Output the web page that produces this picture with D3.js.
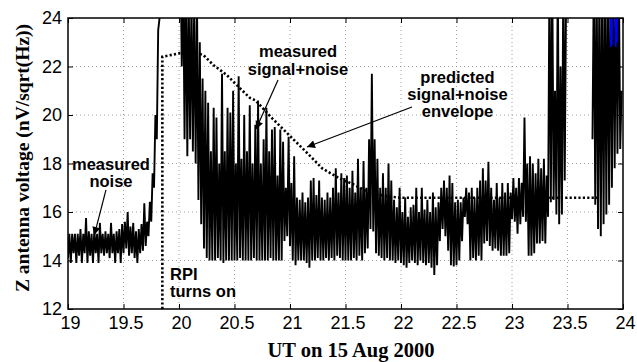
<!DOCTYPE html>
<html>
<head>
<meta charset="utf-8">
<script src="https://cdn.jsdelivr.net/npm/d3@7"></script>
<style>
  body { margin: 0; background: #fff; }
  svg { display: block; }
</style>
</head>
<body>
<div id="chart"></div>
<script>
// measured Z antenna voltage, read as min/max per 0.025 h bin starting at 19.00 UT
// (null = no data in that bin)
const binStart = 19, binWidth = 0.025;
const sigLo = [
  14.1, 13.9, 14.3, 13.9, 14.2, 13.9, 14.3, 13.9, 14.2, 13.9,
  14.3, 13.9, 14.3, 14.2, 14.3, 14.1, 14.3, 13.9, 14.3, 13.9,
  14.3, 14.5, 14.2, 14.3, 14.1, 13.9, 14.3, 14.4, 14.6, 15.0,
  15.6, 17.0, 19.0, 24, 25, 25, 25, 25, 25, 25,
  // 20 h
  25, 22, 19, 18.3, 19, 18.5, 18, 16.5, 15.5, 14.5,
  14.1, 14.0, 14.0, 14.0, 14.1, 14.0, 13.9, 14.0, 14.0, 14.0,
  14.0, 14.0, 14.1, 14.0, 14.0, 14.0, 14.0, 14.1, 14.0, 14.0,
  14.0, 14.0, 14.0, 14.1, 14.0, 14.0, 14.0, 14.0, 14.8, 15.0,
  // 21 h
  14.6, 14.0, 13.8, 14.0, 14.0, 14.0, 13.9, 13.7, 14.0, 14.0,
  14.1, 14.0, 14.0, 14.1, 14.0, 14.1, 14.0, 14.2, 14.1, 14.0,
  14.0, 14.0, 14.0, 14.1, 14.0, 14.2, 14.0, 14.3, 14.5, 15.3,
  15.2, 14.3, 14.2, 14.1, 14.0, 14.1, 14.0, 14.0, 13.9, 14.0,
  // 22 h
  13.9, 13.8, 13.7, 13.9, 14.0, 13.9, 13.8, 14.0, 13.9, 13.8,
  13.9, 13.7, 13.4, 13.8, 14.8, 15.3, 15.0, 14.4, 13.8, 13.75,
  13.8, 14.0, 14.8, 15.8, 15.5, 14.0, 14.1, 14.0, 14.2, 14.0,
  14.7, 14.8, 14.6, 14.4, 14.5, 14.4, 14.2, 14.2, 14.2, 14.3,
  // 23 h
  15.7, 15.6, 15.1, 15.5, 15.8, 15.6, 14.2, 14.2, 14.3, 14.7,
  14.7, 14.8, 14.7, 15.8, 16.4, 16.5, 15.9, 15.5, 15.9, 17.3,
  null, null, null, null, null, null, null, null, null, 19.0,
  16.3, 15.3, 15.0, 15.5, 15.9, 16.3, 17.0, 17.8, 18.4, 18.6
];
const sigHi = [
  15.1, 15.1, 15.1, 15.1, 15.3, 15.1, 15.75, 15.2, 15.1, 15.3,
  15.1, 15.55, 15.1, 15.2, 15.1, 15.55, 15.1, 15.2, 15.3, 15.5,
  15.6, 16.0, 15.4, 15.55, 15.2, 15.3, 15.5, 16.36, 15.6, 16.42,
  17.6, 20.0, 23.5, 27, 27, 27, 27, 27, 27, 27,
  // 20 h
  27, 26, 26, 25, 25, 25, 24.5, 23, 21.5, 21,
  20.5, 18.5, 20.3, 19.9, 18.0, 21.7, 18.5, 20.3, 20.1, 21.0,
  18.0, 21.6, 18.2, 20.0, 18.5, 20.4, 18.0, 19.6, 20.6, 18.0,
  19.0, 20.3, 18.5, 19.4, 19.5, 17.5, 19.4, 18.9, 17.0, 19.1,
  // 21 h
  17.2, 18.3, 16.6, 16.5, 16.8, 16.4, 16.6, 17.3, 17.4, 16.7,
  17.3, 16.6, 16.5, 16.8, 16.6, 17.0, 17.8, 16.8, 17.6, 17.4,
  17.5, 17.0, 17.7, 16.8, 18.2, 17.0, 18.1, 17.0, 19.0, 21.7,
  19.0, 18.2, 17.0, 17.6, 17.0, 18.0, 17.3, 16.5, 16.2, 17.0,
  // 22 h
  16.0, 16.6, 15.8, 16.2, 16.3, 17.0, 16.0, 17.0, 16.1, 16.5,
  16.0, 16.8, 16.2, 16.4, 17.0, 17.3, 17.0, 17.5, 17.2, 16.4,
  16.5, 16.4, 16.6, 17.0, 16.8, 17.0, 16.6, 17.0, 17.3, 17.8,
  17.3, 18.07, 17.0, 16.5, 17.2, 16.6, 17.2, 16.8, 17.2, 16.8,
  // 23 h
  17.4, 17.0, 17.4, 17.2, 19.9, 18.0, 18.3, 18.0, 17.6, 18.2,
  17.8, 18.2, 17.5, 26, 26, 21, 26, 22, 26, 25,
  null, null, null, null, null, null, null, null, null, 26,
  26, 26, 26, 26, 26, 26, 26, 26, 26, 21
];

// predicted signal+noise envelope
const envT = [19.85, 19.85, 20.01, 20.13, 20.22, 20.31, 20.43, 20.55, 20.64, 20.69,
              20.84, 20.99, 21.14, 21.29, 21.44, 21.59, 21.72, 21.9, 22.0, 23.77];
const envV = [12, 22.4, 22.55, 22.6, 22.47, 22.06, 21.65, 21.1, 20.7, 20.6,
              19.86, 19.18, 18.5, 17.8, 17.4, 17.1, 16.77, 16.63, 16.59, 16.59];

// short blue trace near the end
const blueT = [23.885, 23.89, 23.895, 23.9, 23.905, 23.92, 23.93, 23.935, 23.94, 23.945, 23.95];
const blueV = [25, 22.8, 25, 22.9, 25, null, 25, 22.8, 25, 23.0, 25];

const xTicks = [19, 19.5, 20, 20.5, 21, 21.5, 22, 22.5, 23, 23.5, 24];
const yTicks = [12, 14, 16, 18, 20, 22, 24];

const margin = {top: 18, right: 14, bottom: 53, left: 68},
      width = 637 - margin.left - margin.right,
      height = 362 - margin.top - margin.bottom;

const svg = d3.select("#chart")
    .append("svg")
    .attr("width", 637)
    .attr("height", 362);

const g = svg.append("g")
    .attr("transform", `translate(${margin.left},${margin.top})`);

const x = d3.scaleLinear().domain([19, 24]).range([0, width]);
const y = d3.scaleLinear().domain([12, 24]).range([height, 0]);

svg.append("defs").append("clipPath").attr("id", "plotclip")
  .append("rect").attr("width", width).attr("height", height);

// dotted grid
g.append("g").selectAll("line").data(xTicks.slice(1, -1)).enter().append("line")
    .attr("x1", d => x(d)).attr("x2", d => x(d))
    .attr("y1", 0).attr("y2", height)
    .attr("stroke", "#888").attr("stroke-width", 0.8).attr("stroke-dasharray", "1,3");
g.append("g").selectAll("line").data(yTicks.slice(1, -1)).enter().append("line")
    .attr("y1", d => y(d)).attr("y2", d => y(d))
    .attr("x1", 0).attr("x2", width)
    .attr("stroke", "#888").attr("stroke-width", 0.8).attr("stroke-dasharray", "1,3");

// measured signal drawn as a zigzag between each bin's min and max
const pts = [];
sigLo.forEach((lo, i) => {
  pts.push({t: binStart + i * binWidth, v: lo});
  pts.push({t: binStart + (i + 0.5) * binWidth, v: sigHi[i]});
});

const line = d3.line()
    .defined(d => d.v != null)
    .x(d => x(d.t))
    .y(d => y(d.v));

const plot = g.append("g").attr("clip-path", "url(#plotclip)");

plot.append("path")
    .datum(pts)
    .attr("d", line)
    .attr("fill", "none")
    .attr("stroke", "#000")
    .attr("stroke-width", 1.9)
    .attr("stroke-linejoin", "bevel");

plot.append("path")
    .datum(blueT.map((t, i) => ({t: t, v: blueV[i]})))
    .attr("d", line)
    .attr("fill", "none")
    .attr("stroke", "#0000ff")
    .attr("stroke-width", 1.6);

plot.append("path")
    .datum(envT.map((t, i) => ({t: t, v: envV[i]})))
    .attr("d", d3.line().x(d => x(d.t)).y(d => y(d.v)))
    .attr("fill", "none")
    .attr("stroke", "#000")
    .attr("stroke-width", 2.6)
    .attr("stroke-dasharray", "2.2,2.2");

// axes, ticks inward on all four sides
const tickFont = sel => sel.selectAll("text")
    .attr("font-family", "'Liberation Sans', Arial, sans-serif")
    .attr("font-size", "18px").attr("fill", "#000");

const xb = g.append("g").attr("transform", `translate(0,${height})`)
    .call(d3.axisBottom(x).tickValues(xTicks).tickSize(-5).tickPadding(7).tickFormat(d3.format("")));
xb.call(tickFont);
xb.selectAll("text").attr("dx", 2);
const yl = g.append("g")
    .call(d3.axisLeft(y).tickValues(yTicks).tickSize(-5).tickPadding(6).tickFormat(d3.format("")));
yl.call(tickFont);
g.append("g").call(d3.axisTop(x).tickValues(xTicks).tickSize(-5).tickFormat(""));
g.append("g").attr("transform", `translate(${width},0)`)
    .call(d3.axisRight(y).tickValues(yTicks).tickSize(-5).tickFormat(""));
g.selectAll(".domain").remove();
g.selectAll(".tick line").attr("stroke", "#000").attr("stroke-width", 1);

g.append("rect")
    .attr("width", width).attr("height", height)
    .attr("fill", "none").attr("stroke", "#000").attr("stroke-width", 1.5);

// axis titles
svg.append("text")
    .attr("transform", `translate(29,158) rotate(-90)`)
    .attr("text-anchor", "middle")
    .attr("font-family", "'Liberation Serif', 'Times New Roman', serif")
    .attr("font-weight", "bold").attr("font-size", "19.5px")
    .text("Z antenna voltage (nV/sqrt(Hz))");

svg.append("text")
    .attr("x", 351).attr("y", 357)
    .attr("text-anchor", "middle")
    .attr("font-family", "'Liberation Serif', 'Times New Roman', serif")
    .attr("font-weight", "bold").attr("font-size", "20.5px")
    .text("UT on 15 Aug 2000");

// annotations
const defs = svg.select("defs");
defs.append("marker").attr("id", "head")
    .attr("viewBox", "0 0 10 10").attr("refX", 10).attr("refY", 5)
    .attr("markerWidth", 11).attr("markerHeight", 8)
    .attr("markerUnits", "userSpaceOnUse").attr("orient", "auto")
  .append("path").attr("d", "M0,0 L10,5 L0,10 z").attr("fill", "#000");

const arrows = [
  [19.342, 16.91, 19.237, 15.05],
  [20.892, 21.44, 20.694, 19.42],
  [22.099, 20.33, 21.153, 18.68]
];
g.append("g").selectAll("line").data(arrows).enter().append("line")
    .attr("x1", d => x(d[0])).attr("y1", d => y(d[1]))
    .attr("x2", d => x(d[2])).attr("y2", d => y(d[3]))
    .attr("stroke", "#000").attr("stroke-width", 1.2)
    .attr("marker-end", "url(#head)");

const notes = [
  {t: 19.387, v: 17.75, s: "measured", a: "middle"},
  {t: 19.387, v: 17.02, s: "noise", a: "middle"},
  {t: 21.072, v: 22.41, s: "measured", a: "middle"},
  {t: 21.072, v: 21.65, s: "signal+noise", a: "middle"},
  {t: 22.509, v: 21.31, s: "predicted", a: "middle"},
  {t: 22.509, v: 20.62, s: "signal+noise", a: "middle"},
  {t: 22.509, v: 19.90, s: "envelope", a: "middle"},
  {t: 19.919, v: 13.20, s: "RPI", a: "start"},
  {t: 19.919, v: 12.49, s: "turns on", a: "start"}
];
g.append("g").selectAll("text").data(notes).enter().append("text")
    .attr("x", d => x(d.t)).attr("y", d => y(d.v))
    .attr("text-anchor", d => d.a)
    .attr("font-family", "'Liberation Sans', Arial, sans-serif")
    .attr("font-weight", "bold").attr("font-size", "16.5px")
    .attr("fill", "#000")
    .text(d => d.s);
</script>
</body>
</html>
